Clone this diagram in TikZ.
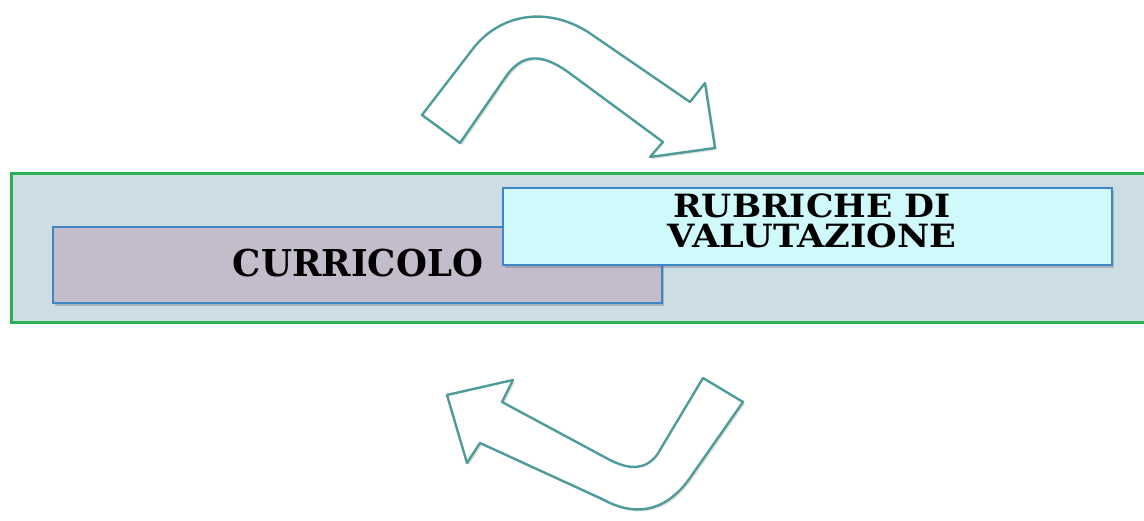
\documentclass[tikz,border=0pt]{standalone}
\usepackage{fontspec}
\newfontfamily\labelfont{DejaVu Serif}
\usetikzlibrary{shadows}
\definecolor{greenframe}{HTML}{2DB052}
\definecolor{bandfill}{HTML}{CCDEE3}
\definecolor{boxblue}{HTML}{3F86C6}
\definecolor{curfill}{HTML}{C3BDCB}
\definecolor{rubfill}{HTML}{CFF9FB}
\definecolor{arrowline}{HTML}{4E9C9A}
\tikzset{
  band/.style={draw=greenframe, line width=3pt, fill=bandfill, inner sep=0pt},
  topicbox/.style={draw=boxblue, line width=1.5pt, inner sep=0pt, align=center,
    drop shadow={shadow xshift=2pt, shadow yshift=-3pt, opacity=0.35, fill=black!60}},
  bigarrow/.style={draw=arrowline, line width=2.4pt, fill=white, line join=round,
    drop shadow={shadow xshift=2pt, shadow yshift=-2pt, opacity=0.25, fill=black!50}},
  labeltext/.style={text=black, align=center, inner sep=0pt}
}
\begin{document}
\begin{tikzpicture}[x=1pt,y=-1pt]
\useasboundingbox[fill=white] (0,0) rectangle (1144,521);
% band
\node[band, minimum width=1139pt, minimum height=149pt] (band) at (580.5,248.5) {};
% boxes
\node[topicbox, fill=curfill, minimum width=609pt, minimum height=76pt] (cur) at (357.5,265) {};
\node[labeltext, font=\labelfont\bfseries\fontsize{37}{37}\selectfont] (curtext) at (358,263) {\scalebox{0.96}[1]{CURRICOLO}};
\node[topicbox, fill=rubfill, minimum width=609pt, minimum height=77pt] (rub) at (807.5,226.5) {};
\node[labeltext, font=\labelfont\bfseries\fontsize{32}{32}\selectfont, text height=23pt, text depth=0pt] (rubline1) at (812,206.5) {\scalebox{1.08}[1]{RUBRICHE DI}};
\node[labeltext, font=\labelfont\bfseries\fontsize{32}{32}\selectfont, text height=23pt, text depth=0pt] (rubline2) at (812,236) {\scalebox{1.1}[1]{VALUTAZIONE}};
% top arrow
\draw[bigarrow] (422,115) -- (472,50) .. controls (498,15) and (545,5) .. (588,32) -- (690,102) -- (705,83) -- (715,148) -- (650,157) -- (663,142) -- (568,72) .. controls (540,52) and (522,55) .. (507,75) -- (460,143) -- cycle;
% bottom arrow
\draw[bigarrow] (743,402) -- (692,475) .. controls (670,508) and (640,520) .. (602,499) -- (480,443) -- (467,463) -- (447,395) -- (513,380) -- (502,402) -- (610,460) .. controls (630,470) and (645,470) .. (657,455) -- (703,378) -- cycle;
\end{tikzpicture}
\end{document}
